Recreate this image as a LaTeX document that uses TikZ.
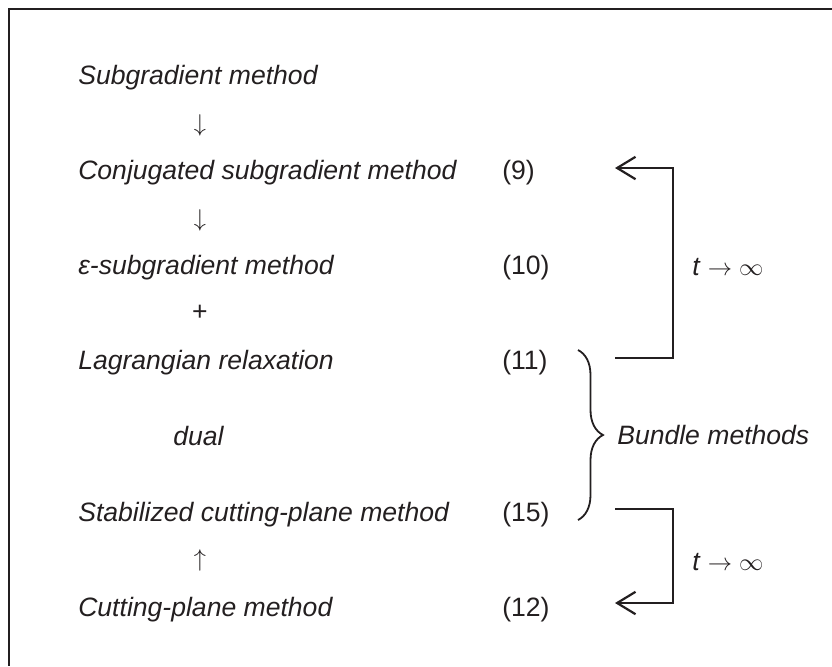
\documentclass[tikz,border=0pt]{standalone}
\usepackage{fontspec}
\setmainfont{Liberation Sans}
\usetikzlibrary{arrows.meta,positioning,decorations.pathreplacing}
\definecolor{ink}{HTML}{231F20}
\tikzstyle{method} = [font=\fontsize{18.9}{22}\selectfont\itshape, text=ink,
inner sep=0pt, anchor=base west]
\tikzstyle{sym} = [font=\fontsize{18.9}{22}\selectfont, text=ink, inner sep=0pt]
\tikzstyle{eqno} = [font=\fontsize{18.9}{22}\selectfont, text=ink,
inner sep=0pt, anchor=base west]
\tikzstyle{feedback} = [draw=ink, line width=0.55mm,
-{Straight Barb[length=4.6mm,width=5.6mm,line width=0.55mm]}]

\begin{document}
\begin{tikzpicture}[x=0.25mm, y=-0.25mm, node distance=23.75mm]
	\useasboundingbox (0,0) rectangle (832,666);
	\draw [ink, line width=0.65mm] (832,9) -- (9,9) -- (9,666);
	
	\node [method] (Sub) at (78,84) {Subgradient method};
	\node [method, below=of Sub.base west, anchor=base west] (Conj) {Conjugated subgradient method};
	\node [method, below=of Conj.base west, anchor=base west] (Eps) {ε-subgradient method};
	\node [method, below=of Eps.base west, anchor=base west] (Lag) {Lagrangian relaxation};
	\node [method, below=38mm of Lag.base west, anchor=base west] (Stab) {Stabilized cutting-plane method};
	\node [method, below=of Stab.base west, anchor=base west] (Cut) {Cutting-plane method};
	\node [method] (Dual) at (173,445) {dual};
	
	\node [sym, font=\fontsize{17}{20}\selectfont] (Down1) at (200,125) {$\downarrow$};
	\node [sym, font=\fontsize{17}{20}\selectfont] (Down2) at (200,220) {$\downarrow$};
	\node [sym] (Plus) at (200,313) {+};
	\node [sym, font=\fontsize{17}{20}\selectfont] (Up) at (200,560) {$\uparrow$};
	
	\coordinate (EqCol) at (502,0);
	\node [eqno] (Eq9) at (Conj.base -| EqCol) {(9)};
	\node [eqno] (Eq10) at (Eps.base -| EqCol) {(10)};
	\node [eqno] (Eq11) at (Lag.base -| EqCol) {(11)};
	\node [eqno] (Eq15) at (Stab.base -| EqCol) {(15)};
	\node [eqno] (Eq12) at (Cut.base -| EqCol) {(12)};
	
	\coordinate (BraceTop) at (578,350);
	\coordinate (BraceBot) at (578,520);
	\draw [ink, line width=0.45mm, decorate, decoration={brace, amplitude=6.25mm}] (BraceTop) -- (BraceBot);
	\node [method, anchor=west] (Bundle) at (617,435) {Bundle methods};
	
	\coordinate (TopOut) at (615,358);
	\coordinate (TopIn) at (615,168);
	\coordinate (BotOut) at (615,509);
	\coordinate (BotIn) at (615,603);
	\draw [feedback] (TopOut) -- ++(58,0) |- (TopIn);
	\draw [feedback] (BotOut) -- ++(58,0) |- (BotIn);
	\node [sym, anchor=west] (Lim1) at (692,267) {\textit{t} $\rightarrow\infty$};
	\node [sym, anchor=west] (Lim2) at (692,562) {\textit{t} $\rightarrow\infty$};
	
\end{tikzpicture}
\end{document}
